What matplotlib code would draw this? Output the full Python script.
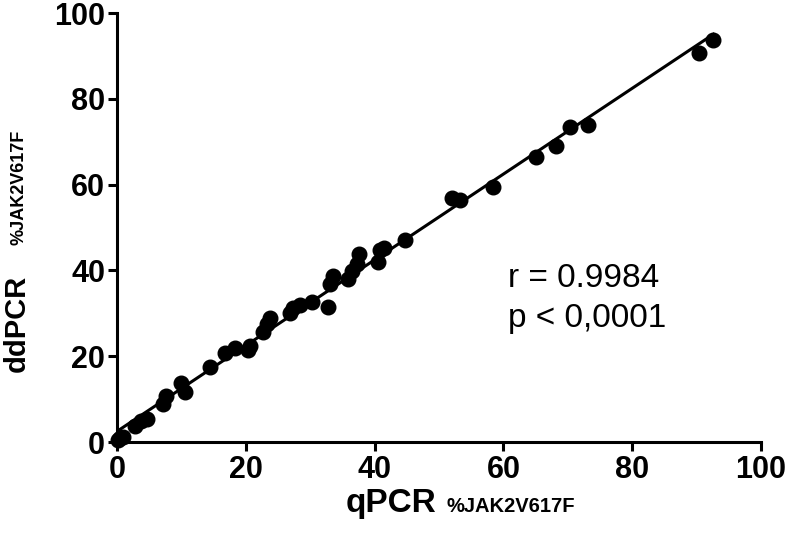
import matplotlib
matplotlib.use('Agg')
from matplotlib import pyplot as plt
import numpy as np

# % JAK2V617F measured with the two methods
qpcr = [0.2, 0.5, 1.0, 2.8, 3.8, 4.6, 7.2, 7.6, 10.0, 10.6,
        14.4, 16.8, 18.3, 20.4, 20.7, 22.7, 23.3, 23.8, 26.9, 27.4,
        28.4, 30.2, 32.7, 33.1, 33.5, 35.9, 36.5, 37.2, 37.5, 40.6,
        40.8, 41.5, 44.7, 52.0, 53.3, 58.4, 65.1, 68.1, 70.3, 73.2,
        90.3, 92.6]
ddpcr = [0.5, 0.9, 1.2, 3.8, 5.0, 5.3, 8.8, 10.7, 13.7, 11.7,
         17.5, 20.7, 21.8, 21.4, 22.4, 25.7, 27.5, 28.9, 30.0, 31.3,
         31.9, 32.7, 31.5, 36.8, 38.6, 38.0, 39.8, 41.6, 43.8, 42.0,
         44.8, 45.3, 47.1, 56.8, 56.4, 59.5, 66.4, 69.1, 73.5, 73.9,
         90.6, 93.7]
ticks = [0, 20, 40, 60, 80, 100]
stats = ['r = 0.9984', 'p < 0,0001']

tickfont = ['Liberation Sans Narrow', 'Liberation Sans', 'DejaVu Sans']
labelfont = ['Liberation Sans', 'DejaVu Sans']

fig = plt.figure(figsize=(7.88, 5.43), dpi=100)
ax = fig.add_axes([0.1485, 0.186, 0.8173, 0.790])

ax.plot(qpcr, ddpcr, 'o', color='black', markersize=10.5, clip_on=False, zorder=3)

slope, icpt = np.polyfit(qpcr, ddpcr, 1)
xs = np.array([min(qpcr), max(qpcr)])
ax.plot(xs, slope * xs + icpt, color='black', lw=2.2, zorder=2)

ax.set_xlim(0, 100)
ax.set_ylim(0, 100)
ax.set_xticks(ticks)
ax.set_yticks(ticks)
for s in ['top', 'right']:
    ax.spines[s].set_visible(False)
for s in ['left', 'bottom']:
    ax.spines[s].set_linewidth(2.2)
ax.tick_params(length=6.5, width=2.2, direction='out')
ax.tick_params(axis='x', pad=3)
ax.tick_params(axis='y', pad=2)
for lab in ax.get_xticklabels() + ax.get_yticklabels():
    lab.set_family(tickfont)
    lab.set_fontweight('bold')
    lab.set_fontsize(22)

ax.text(60.7, 36.1, stats[0], fontsize=24, family=labelfont, va='baseline')
ax.text(60.7, 26.8, stats[1], fontsize=24, family=labelfont, va='baseline')

fig.text(0.438, 0.057, 'qPCR', fontsize=24, fontweight='bold', family=labelfont, va='baseline')
fig.text(0.566, 0.057, '%JAK2V617F', fontsize=14.5, fontweight='bold', family=labelfont, va='baseline')
fig.text(0.003, 0.315, 'ddPCR', fontsize=21, fontweight='bold', family=labelfont,
         rotation=90, ha='left', va='bottom')
fig.text(0.013, 0.549, '%JAK2V617F', fontsize=13, fontweight='bold', family=labelfont,
         rotation=90, ha='left', va='bottom')

fig.savefig('out.png', dpi=100)
